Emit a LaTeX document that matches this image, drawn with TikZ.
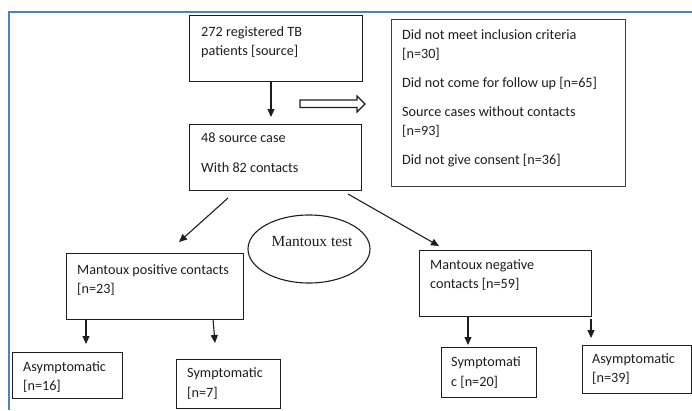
\documentclass[tikz,border=0pt]{standalone}
\usepackage{fontspec}
\setmainfont{Carlito}
\newfontfamily\serifface{Liberation Serif}
\usetikzlibrary{arrows.meta,shapes.geometric,calc}
\definecolor{frameblue}{RGB}{79,129,189}
\definecolor{ink}{RGB}{30,30,30}
\begin{document}
\begin{tikzpicture}[x=1pt,y=-1pt,
  box/.style={draw=ink, line width=1.1pt, inner sep=0pt, anchor=north west},
  tx/.style={anchor=base west, inner sep=0pt, text=ink, font=\fontsize{14.2}{19}\selectfont},
  arr/.style={draw=ink, line width=1.1pt, -{Triangle[length=8pt,width=7pt]}},
  bluefr/.style={draw=frameblue, line width=1.5pt}]
\useasboundingbox (0,0) rectangle (692,410);
% frame
\draw[bluefr] (692,12) -- (9,12) -- (9,410);
% boxes
\node[box, minimum width=173pt, minimum height=66pt] (A) at (189,15) {};
\node[box, minimum width=172pt, minimum height=66pt] (B) at (189,124) {};
\node[box, minimum width=234pt, minimum height=167pt, draw=black!75] (C) at (391,19) {};
\node[box, minimum width=177pt, minimum height=66pt] (D) at (66,253) {};
\node[box, minimum width=172pt, minimum height=66pt] (E) at (419,250) {};
\node[box, minimum width=110pt, minimum height=46pt] (F) at (12,352) {};
\node[box, minimum width=104pt, minimum height=49pt] (G) at (176,359) {};
\node[box, minimum width=95pt, minimum height=50pt] (H) at (441,347) {};
\node[box, minimum width=108.5pt, minimum height=48pt] (I) at (582,345) {};
\node[ellipse, draw=ink, line width=1.1pt, minimum width=122pt, minimum height=68pt, inner sep=0pt] (M) at (309,249) {};
% texts
\node[tx] (a1) at (201,36) {272 registered TB};
\node[tx] (a2) at (201,55) {patients [source]};
\node[tx] (b1) at (201,142.5) {48 source case};
\node[tx] (b2) at (201,172.5) {With 82 contacts};
\node[tx] (c1) at (402,39) {Did not meet inclusion criteria};
\node[tx] (c2) at (402,58) {[n=30]};
\node[tx] (c3) at (402,87) {Did not come for follow up [n=65]};
\node[tx] (c4) at (402,116) {Source cases without contacts};
\node[tx] (c5) at (402,135) {[n=93]};
\node[tx] (c6) at (402,164) {Did not give consent [n=36]};
\node[tx] (d1) at (77,274.5) {Mantoux positive contacts};
\node[tx] (d2) at (77,293.5) {[n=23]};
\node[tx] (e1) at (430,269.5) {Mantoux negative};
\node[tx] (e2) at (430,288.5) {contacts [n=59]};
\node[tx] (f1) at (23,371.5) {Asymptomatic};
\node[tx] (f2) at (23,390.5) {[n=16]};
\node[tx] (g1) at (187,377.5) {Symptomatic};
\node[tx] (g2) at (187,397) {[n=7]};
\node[tx] (h1) at (451,366.5) {Symptomati};
\node[tx] (h2) at (451,386) {c [n=20]};
\node[tx] (i1) at (592,363.5) {Asymptomatic};
\node[tx] (i2) at (592,382) {[n=39]};
\node[inner sep=0pt, text=ink, font=\serifface\fontsize{15.4}{18}\selectfont] (mt) at (312,242) {Mantoux test};
% hollow arrow
\draw[draw=ink, line width=1.1pt, fill=white] (300,100) -- (357,100) -- (357,96) -- (365,104) -- (357,112) -- (357,107.5) -- (300,107.5) -- cycle;
% connectors
\coordinate (tAB) at (271,117);
\draw[arr] (A.south -| tAB) -- (tAB);
\coordinate (sBD) at (228,198);
\coordinate (tBD) at (179,242);
\draw[arr] (sBD) -- (tBD);
\coordinate (sBE) at (348,194);
\coordinate (tBE) at (439,246);
\draw[arr] (sBE) -- (tBE);
\coordinate (tDF) at (86,344);
\draw[arr] (D.south -| tDF) -- (tDF);
\coordinate (sDG) at (213,319);
\coordinate (tDG) at (215,343);
\draw[arr] (sDG) -- (tDG);
\coordinate (tEH) at (468,345);
\draw[arr] (E.south -| tEH) -- (tEH);
\coordinate (tEI) at (591,338);
\draw[arr] (E.south -| tEI) ++(0,2) -- (tEI);
\end{tikzpicture}
\end{document}
